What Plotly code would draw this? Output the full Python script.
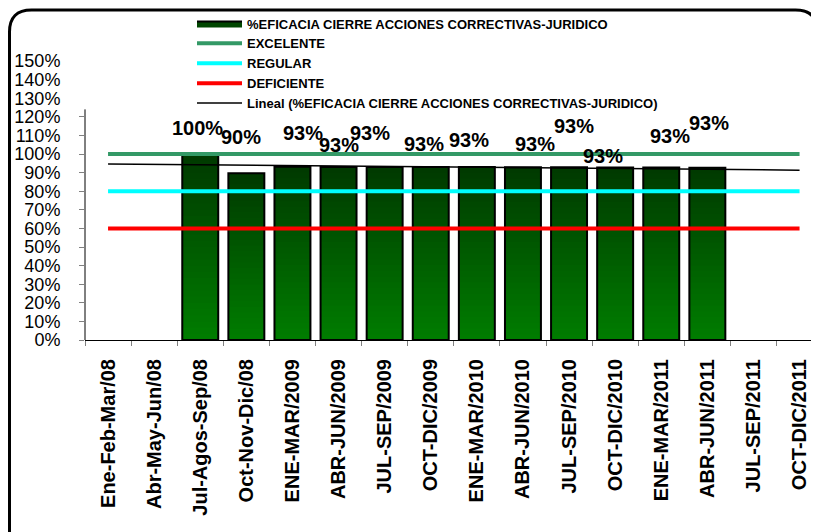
import plotly.graph_objects as go

# ---------------- data ----------------
categorias = ["Ene-Feb-Mar/08", "Abr-May-Jun/08", "Jul-Agos-Sep/08", "Oct-Nov-Dic/08",
              "ENE-MAR/2009", "ABR-JUN/2009", "JUL-SEP/2009", "OCT-DIC/2009",
              "ENE-MAR/2010", "ABR-JUN/2010", "JUL-SEP/2010", "OCT-DIC/2010",
              "ENE-MAR/2011", "ABR-JUN/2011", "JUL-SEP/2011", "OCT-DIC/2011"]
eficacia = [None, None, 1.00, 0.897, 0.932, 0.93, 0.93, 0.93, 0.93, 0.929,
            0.929, 0.928, 0.927, 0.926, None, None]
excelente = [1.0, 1.0, 1.0, 1.0, 1.0, 1.0, 1.0, 1.0, 1.0, 1.0, 1.0, 1.0, 1.0, 1.0, 1.0, 1.0]
regular = [0.8, 0.8, 0.8, 0.8, 0.8, 0.8, 0.8, 0.8, 0.8, 0.8, 0.8, 0.8, 0.8, 0.8, 0.8, 0.8]
deficiente = [0.6, 0.6, 0.6, 0.6, 0.6, 0.6, 0.6, 0.6, 0.6, 0.6, 0.6, 0.6, 0.6, 0.6, 0.6, 0.6]
lineal_x = ["Ene-Feb-Mar/08", "OCT-DIC/2011"]
lineal_y = [0.946, 0.913]
ytick_vals = [0, 0.1, 0.2, 0.3, 0.4, 0.5, 0.6, 0.7, 0.8, 0.9, 1.0, 1.1, 1.2]
ytick_vals_top = [1.3, 1.4, 1.5]

# label offsets (pixels) for the data labels, as placed in the original
label_dx = [0, 0, -3, -5, 11, 0, -15, -7, -8, 12, 5, -12, 9, 2, 0, 0]
label_dy = [0, 0, 26, 36, 34, 22, 34, 23, 27, 23, 41, 11, 32, 45, 0, 0]

FONT = "Arial, Liberation Sans, sans-serif"
OFF = 8                      # page body margin
W, H = 819, 532
ML, MR, MT, MB = 85 - OFF, 0, 61 - OFF, H - (340 - OFF)
CAT_W = 46.1

fig = go.Figure()

# gradient bars: overlays from zero, darker on top
N = 30
top_rgb = (0, 58, 0)
bot_rgb = (0, 124, 0)
for k in range(N):
    frac = (N - k) / N
    t = k / (N - 1)
    col = "rgb(%d,%d,%d)" % tuple(round(top_rgb[i] + (bot_rgb[i] - top_rgb[i]) * t) for i in range(3))
    fig.add_trace(go.Bar(
        x=categorias, y=[None if v is None else v * frac for v in eficacia],
        marker=dict(color=col, line=dict(width=0)), showlegend=False, hoverinfo="skip"))
# bar outline
fig.add_trace(go.Bar(
    x=categorias, y=eficacia, name="%EFICACIA CIERRE ACCIONES CORRECTIVAS-JURIDICO",
    marker=dict(color="rgba(0,0,0,0)", line=dict(color="black", width=2)), showlegend=False))
# legend entry for the bar series
fig.add_trace(go.Scatter(
    x=[None], y=[None], mode="lines", fill="toself", fillcolor="rgb(0,70,0)",
    line=dict(color="black", width=2),
    name="%EFICACIA CIERRE ACCIONES CORRECTIVAS-JURIDICO"))

fig.add_trace(go.Scatter(x=categorias, y=excelente, mode="lines", name="EXCELENTE",
                         line=dict(color="rgb(51,153,102)", width=4)))
fig.add_trace(go.Scatter(x=categorias, y=regular, mode="lines", name="REGULAR",
                         line=dict(color="rgb(0,255,255)", width=4)))
fig.add_trace(go.Scatter(x=categorias, y=deficiente, mode="lines", name="DEFICIENTE",
                         line=dict(color="rgb(255,0,0)", width=4)))
fig.add_trace(go.Scatter(x=lineal_x, y=lineal_y, mode="lines",
                         name="Lineal (%EFICACIA CIERRE ACCIONES CORRECTIVAS-JURIDICO)",
                         line=dict(color="black", width=1.5)))
# invisible trace to carry the upper tick labels axis
fig.add_trace(go.Scatter(x=[None], y=[None], yaxis="y2", showlegend=False))

# data labels
for c, v, dx, dy in zip(categorias, eficacia, label_dx, label_dy):
    if v is None:
        continue
    fig.add_annotation(x=c, y=v, text="%d%%" % round(v * 100), showarrow=False,
                       xanchor="center", yanchor="middle", xshift=dx, yshift=dy,
                       font=dict(family=FONT, size=20, color="black", weight="bold"))

pw = W - ML - MR
ph = H - MT - MB
def px(x):  # page pixel -> paper x
    return (x - OFF - ML) / pw
def py(y):  # page pixel -> paper y
    return (H - MB - (y - OFF)) / ph

# outer rounded frame
x0, x1, y0, y1, r = 9.5, 817.5, 10.0, 560.0, 22
path = ("M %f %f L %f %f Q %f %f %f %f L %f %f Q %f %f %f %f L %f %f" % (
    px(x0), py(y1), px(x0), py(y0 + r), px(x0), py(y0), px(x0 + r), py(y0),
    px(x1 - r), py(y0), px(x1), py(y0), px(x1), py(y0 + r), px(x1), py(y1)))
fig.add_shape(type="path", path=path, xref="paper", yref="paper",
              line=dict(color="black", width=3))
# y axis line (only to ~124%)
fig.add_shape(type="line", xref="paper", yref="y", x0=0, x1=0, y0=0, y1=1.24,
              line=dict(color="black", width=1))

fig.update_layout(
    width=W, height=H,
    margin=dict(l=ML, r=MR, t=MT, b=MB),
    paper_bgcolor="white", plot_bgcolor="white",
    barmode="overlay", bargap=0.22,
    font=dict(family=FONT, color="black"),
    showlegend=True,
    legend=dict(x=px(192), y=py(8.5), xanchor="left", yanchor="top",
                bgcolor="rgba(0,0,0,0)", borderwidth=0, traceorder="normal",
                itemwidth=45,
                font=dict(family=FONT, size=13, color="black", weight="bold")),
    xaxis=dict(type="category", range=[-0.5, -0.5 + pw / CAT_W],
               showline=True, linecolor="black", linewidth=1,
               ticks="outside", ticklen=5, tickcolor="#808080", tickson="boundaries",
               tickangle=-90, ticklabelstandoff=10,
               tickfont=dict(family=FONT, size=20, color="black", weight="bold"),
               showgrid=False, zeroline=False, fixedrange=True),
    yaxis=dict(range=[0, 1.5], tickvals=ytick_vals, tickformat=".0%",
               showline=False, ticks="outside", ticklen=5, tickcolor="#808080",
               ticklabelstandoff=15,
               tickfont=dict(family=FONT, size=18, color="black"),
               showgrid=False, zeroline=False),
    yaxis2=dict(range=[0, 1.5], overlaying="y", side="left", tickvals=ytick_vals_top,
                tickformat=".0%", showline=False, ticks="outside", ticklen=5,
                tickcolor="rgba(0,0,0,0)", ticklabelstandoff=15,
                tickfont=dict(family=FONT, size=18, color="black"),
                showgrid=False, zeroline=False),
)

fig.write_html("out.html")
